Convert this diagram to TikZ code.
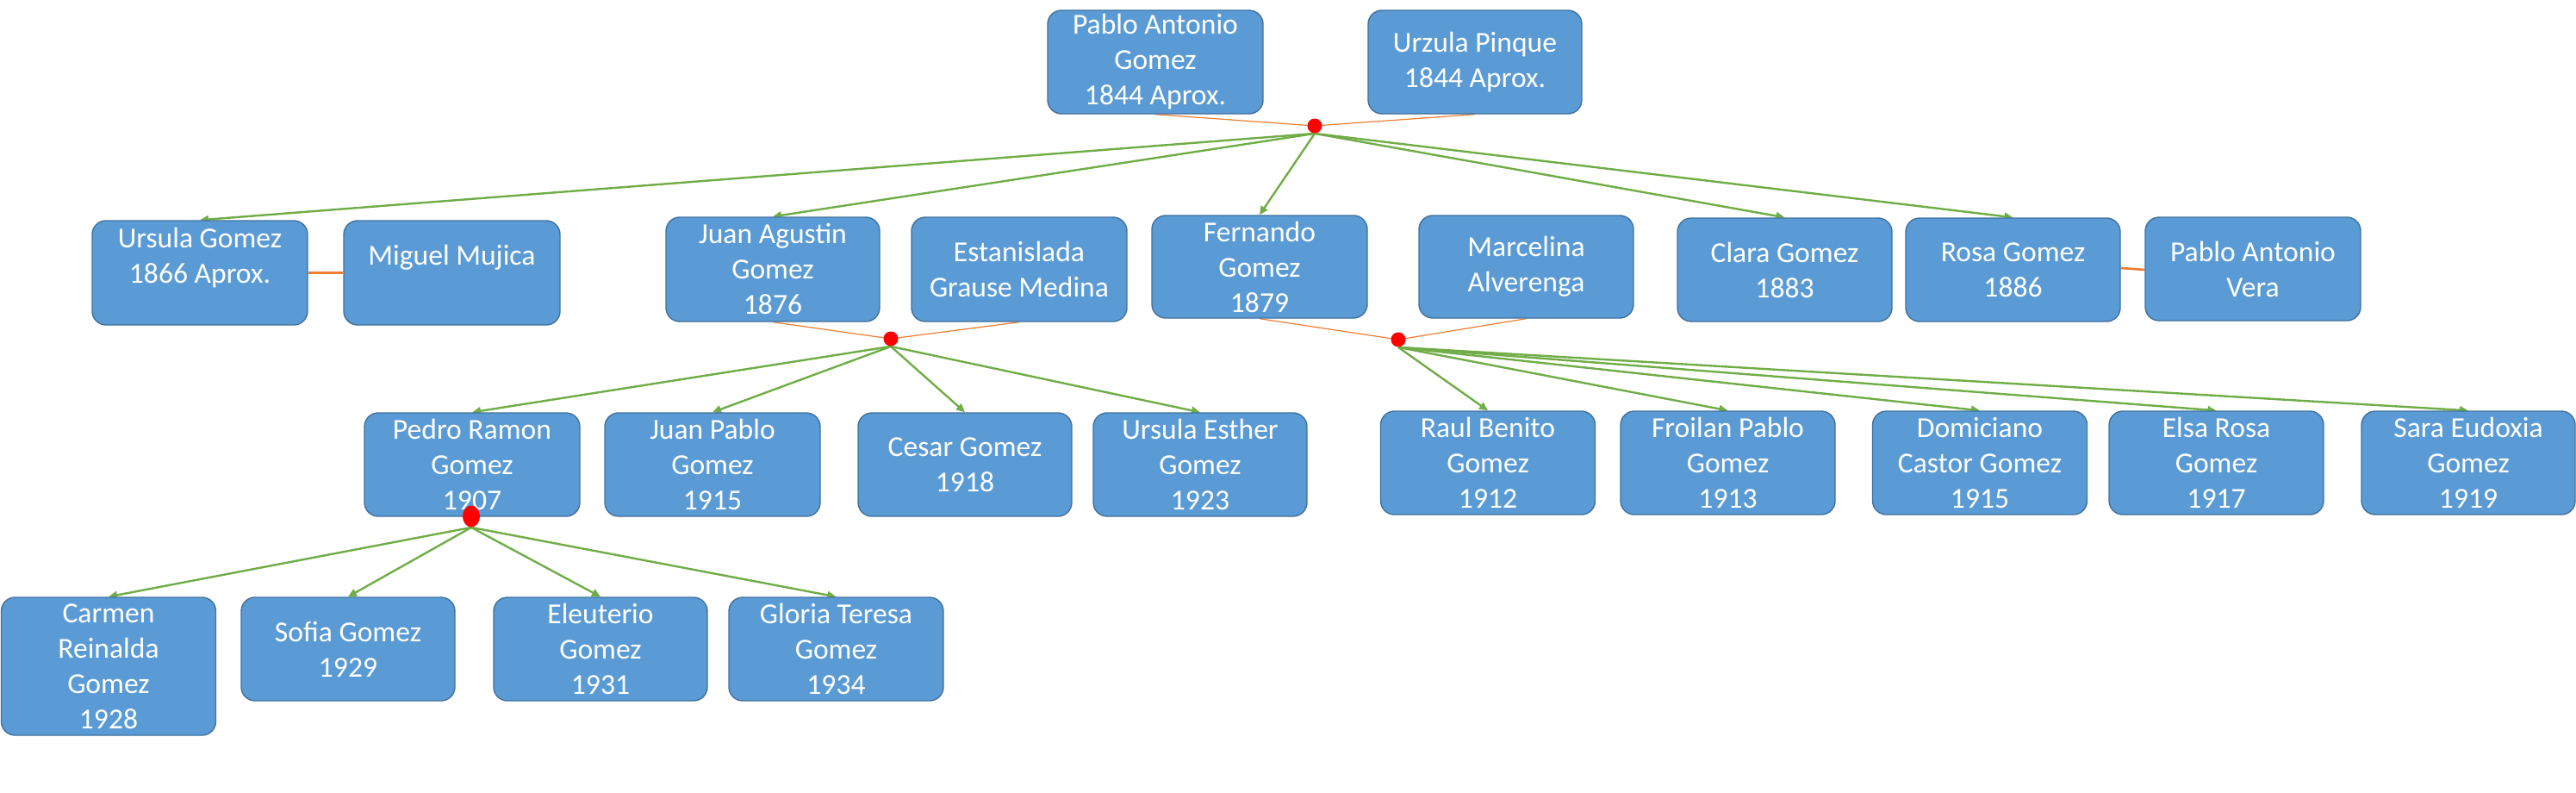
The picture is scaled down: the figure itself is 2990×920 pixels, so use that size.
\documentclass[tikz,border=0pt]{standalone}
\usepackage{fontspec}
\setmainfont{Carlito}
\usetikzlibrary{arrows.meta,shapes.geometric,backgrounds}
\definecolor{boxblue}{HTML}{5B9BD5}
\definecolor{boxline}{HTML}{41719C}
\definecolor{kidgreen}{HTML}{70AD47}
\definecolor{spouseorange}{HTML}{ED7D31}
\definecolor{dotred}{HTML}{FF0000}
\tikzset{
  pbox/.style={draw=boxline, line width=0.7pt, fill=boxblue, rounded corners=8pt,
    text=white, align=center, inner sep=0pt,
    font=\fontsize{16.8}{20.5}\selectfont},
  kid/.style={draw=kidgreen, line width=1.2pt, -{Triangle[length=5pt,width=4.5pt]}},
  wed/.style={draw=spouseorange, line width=0.6pt},
  wedthick/.style={draw=spouseorange, line width=1.3pt},
  reddot/.style={circle, fill=dotred, inner sep=0pt, minimum size=8.5pt},
}
\newcommand\pnode[6]{\node[pbox, minimum width=#4*0.5pt, minimum height=#5*0.5pt] (#1) at (#2,#3) {#6};}
\begin{document}
\begin{tikzpicture}[x=0.5pt,y=-0.5pt]
\useasboundingbox (0,0) rectangle (2990,920);
% generation 1
\pnode{pag}{1341}{72}{250}{120}{Pablo Antonio\\Gomez\\1844 Aprox.}
\pnode{urz}{1712}{72}{248}{120}{Urzula Pinque\\1844 Aprox.}
% generation 2
\pnode{urs}{232}{316.5}{250}{121}{Ursula Gomez\\1866 Aprox.\\\mbox{}}
\pnode{mig}{524.5}{316.5}{251}{121}{Miguel Mujica\\\mbox{}}
\pnode{jag}{897}{312.5}{248}{121}{Juan Agustin\\Gomez\\1876}
\pnode{est}{1183}{312.5}{250}{121}{Estanislada\\Grause Medina}
\pnode{fer}{1462}{309.5}{250}{119}{Fernando\\Gomez\\1879}
\pnode{mar}{1771.5}{309.5}{249}{119}{Marcelina\\Alverenga}
\pnode{cla}{2071.5}{313}{249}{120}{Clara Gomez\\1883}
\pnode{ros}{2336.5}{313}{249}{120}{Rosa Gomez\\1886}
\pnode{pav}{2615}{312}{250}{120}{Pablo Antonio\\Vera}
% generation 3
\pnode{ped}{548}{539}{250}{120}{Pedro Ramon\\Gomez\\1907}
\pnode{jpa}{827}{539}{250}{120}{Juan Pablo\\Gomez\\1915}
\pnode{ces}{1120}{539}{248}{120}{Cesar Gomez\\1918}
\pnode{ues}{1393}{539}{248}{120}{Ursula Esther\\Gomez\\1923}
\pnode{rau}{1727}{537}{249}{120}{Raul Benito\\Gomez\\1912}
\pnode{fro}{2005.5}{537}{249}{120}{Froilan Pablo\\Gomez\\1913}
\pnode{dom}{2298}{537}{249}{120}{Domiciano\\Castor Gomez\\1915}
\pnode{els}{2572.5}{537}{249}{120}{Elsa Rosa\\Gomez\\1917}
\pnode{sar}{2865}{537}{248}{120}{Sara Eudoxia\\Gomez\\1919}
% generation 4
\pnode{car}{126}{773}{249}{160}{Carmen\\Reinalda\\Gomez\\1928}
\pnode{sof}{404}{753}{248}{120}{Sofia Gomez\\1929}
\pnode{ele}{697}{753}{248}{120}{Eleuterio\\Gomez\\1931}
\pnode{glo}{970.5}{753}{249}{120}{Gloria Teresa\\Gomez\\1934}
% union dots
\node[reddot] (d1) at (1526,146) {};
\node[reddot] (d2) at (1034,393) {};
\node[reddot] (d3) at (1623,394) {};
\node[ellipse, fill=dotred, inner sep=0pt, minimum width=10pt, minimum height=12.5pt] (d4) at (547,599) {};
\begin{scope}[on background layer]
  \draw[wed] (pag.south) -- (d1.center);
  \draw[wed] (urz.south) -- (d1.center);
  \draw[wed] (jag.south) -- (d2.center);
  \draw[wed] (est.south) -- (d2.center);
  \draw[wed] (fer.south) -- (d3.center);
  \draw[wed] (mar.south) -- (d3.center);
  \draw[wedthick] (urs.east) -- (urs.east -| mig.west);
  \draw[wedthick] (ros.east) ++(0,-2) -- (pav.west |- ros.east);
  \foreach \c in {urs,jag,fer,cla,ros} \draw[kid] (d1.south) -- (\c.north);
  \foreach \c in {ped,jpa,ces,ues} \draw[kid] (d2.south) -- (\c.north);
  \foreach \c in {rau,fro,dom,els,sar} \draw[kid] (d3.south) -- (\c.north);
  \foreach \c in {car,sof,ele,glo} \draw[kid] (d4.south) -- (\c.north);
\end{scope}
\end{tikzpicture}
\end{document}
